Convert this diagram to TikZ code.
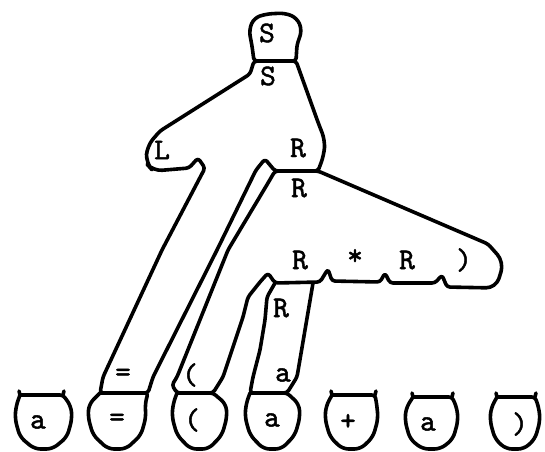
\documentclass[tikz,border=0pt]{standalone}
\usepackage{fontspec}
\newfontfamily\typew[FakeBold=1.6]{lmmono10-regular.otf}
\newcommand\myleaf[8]{% #1 name, #2 bar left, #3 bar right, #4 bar y, #5 body left, #6 body right, #7 label x, #8 label
  \draw[outline] (#2,#4) -- (#3,#4) [rounded corners=6pt] -- ({#6-1},{#4+11}) -- (#6,{#4+24}) -- ({#6-5},{#4+42}) -- ({(#5+#6)/2+9},449) -- ({(#5+#6)/2-9},449) -- ({#5+5},{#4+42}) -- (#5,{#4+24}) -- ({#5+1},{#4+11}) [sharp corners] -- cycle;
  \node[lbl] (#1) at (#7,{#4+27}) {#8};}
\newcommand\myears[3]{%
  \draw (#1,#3) -- ({#1-1},{#3-4});
  \draw (#2,#3) -- ({#2+1},{#3-4});}
\begin{document}
\begin{tikzpicture}[x=1pt,y=-1pt,line width=3.6pt,line join=round,line cap=round,
  lbl/.style={font=\typew\fontsize{30}{30}\selectfont,inner sep=0pt,anchor=center},
  outline/.style={draw,rounded corners=3pt}]
\useasboundingbox (0,0) rectangle (545,451);
% top S blob
\draw[outline] (254,61) -- (252,46) [rounded corners=6pt] -- (249,30) -- (254,18) -- (266,14) -- (285,13) -- (297,18) -- (302,30) [rounded corners=3pt] -- (297,45) -- (296,61) -- cycle;
\node[lbl] (top) at (267,33) {S};
% S region
\draw[outline] (254,61) -- (250,74) -- (160,131) [rounded corners=9pt] -- (147,146) -- (146,163) -- (153,171) [rounded corners=3pt] -- (189,168) -- (198,158) -- (205,168) -- (162,250) -- (103,377) -- (100,393) -- (148,393) -- (153,377) -- (217,250) -- (256,170) -- (265,159) -- (275,171) -- (318,171) [rounded corners=8pt] -- (324,155) -- (325,140) -- (319,125) [rounded corners=3pt] -- (296,61) -- cycle;
\node[lbl] (s) at (268,76) {S};
\node[lbl] (l) at (162,150) {L};
\node[lbl] (r1) at (298,148) {R};
% second R region
\draw[outline] (275,171) -- (318,171) -- (488,244) [rounded corners=10pt] -- (504,262) -- (496,288) [rounded corners=3pt] -- (447,287) -- (442,275) -- (435,283) -- (390,283) -- (385,273) -- (380,282) -- (332,281) -- (328,269) -- (320,282) -- (275,283) -- (268,273) -- (260,282) -- (248,297) -- (243,317) -- (223,377) -- (213,393) -- (177,393) -- (172,385) -- (177,377) -- (228,250) -- (268,183) -- cycle;
\node[lbl] (r2) at (299,188) {R};
\node[lbl] (c1) at (300,260) {R};
\node[lbl] (c2) at (355,257) {*};
\node[lbl] (c3) at (407,260) {R};
\node[lbl] (c4) at (464,260) {)};
% R column
\draw[outline] (275,283) -- (267,297) -- (265,320) -- (260,350) -- (253,377) -- (250,393) -- (287,393) -- (297,377) -- (313,283);
\node[lbl] (rc) at (281,308) {R};
% column labels
\node[lbl] (ceq) at (123,375) {=};
\node[lbl] (clp) at (190,375) {(};
\node[lbl] (ca) at (283,375) {a};
% leaves
\myleaf{f1}{20}{63}{395}{15}{72}{38}{a}
\myears{20}{63}{395}
\myleaf{f2}{100}{148}{393}{88}{146}{117}{=}
\myleaf{f3}{177}{213}{393}{172}{227}{192}{(}
\myleaf{f4}{250}{287}{393}{245}{300}{272}{a}
\myleaf{f5}{332}{375}{395}{325}{378}{348}{+}
\myears{332}{375}{395}
\myleaf{f6}{413}{452}{397}{405}{458}{428}{a}
\myears{413}{452}{397}
\myleaf{f7}{497}{535}{397}{490}{540}{520}{)}
\myears{497}{535}{397}
\end{tikzpicture}
\end{document}
